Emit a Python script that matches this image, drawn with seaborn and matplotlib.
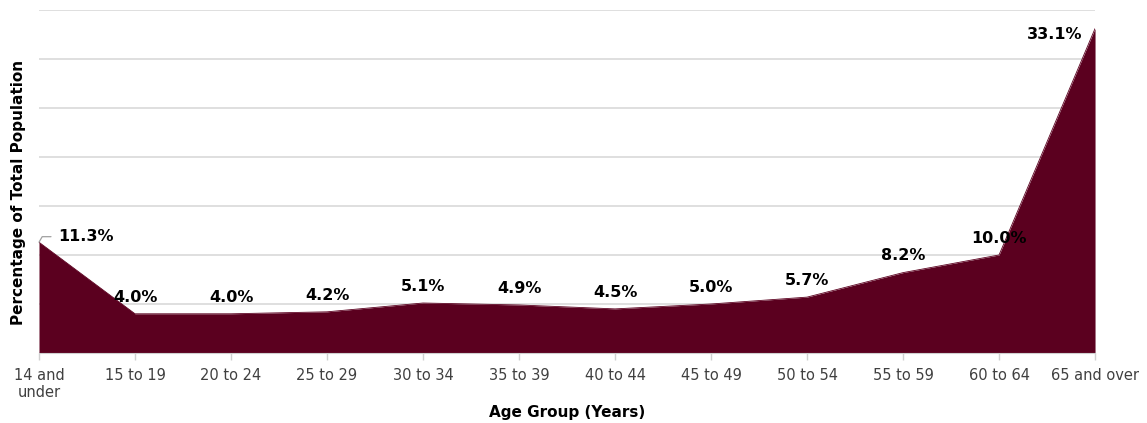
import matplotlib
matplotlib.use('Agg')
import numpy as np
import pandas as pd
import matplotlib.pyplot as plt
import seaborn as sns

age_groups = ['14 and\nunder', '15 to 19', '20 to 24', '25 to 29', '30 to 34', '35 to 39',
              '40 to 44', '45 to 49', '50 to 54', '55 to 59', '60 to 64', '65 and over']
pct = [11.3, 4.0, 4.0, 4.2, 5.1, 4.9, 4.5, 5.0, 5.7, 8.2, 10.0, 33.1]
pct_labels = ['11.3%', '4.0%', '4.0%', '4.2%', '5.1%', '4.9%', '4.5%', '5.0%', '5.7%', '8.2%', '10.0%', '33.1%']

fill_color = '#5B001F'

sns.set_style('white')
plt.rcParams['font.family'] = ['DejaVu Sans']

df = pd.DataFrame({'pos': np.arange(len(pct)), 'pct': pct})

fig = plt.figure(figsize=(11.47, 4.23), dpi=100)
ax = fig.add_axes([0.034, 0.1655, 0.9207, 0.811])

sns.lineplot(data=df, x='pos', y='pct', color=fill_color, linewidth=0.6, ax=ax)
ax.fill_between(df['pos'], df['pct'], 0, color=fill_color, linewidth=0)

ax.set_xlim(0, len(pct) - 1)
ax.set_ylim(0, 35)
ax.set_yticks(np.arange(0, 36, 5))
ax.set_yticklabels([])
ax.tick_params(axis='y', length=0)
ax.yaxis.grid(True, color='#d9d9d9', linewidth=1.2)
ax.set_axisbelow(True)

ax.set_xticks(df['pos'])
ax.set_xticklabels(age_groups, fontsize=10.5, color='#404040', linespacing=1.15)
ax.tick_params(axis='x', bottom=True, length=5, color='#d0d0d0', width=1, pad=6)

for s in ['top', 'right', 'left']:
    ax.spines[s].set_visible(False)
ax.spines['bottom'].set_color('#d0d0d0')

# data labels
for i, (v, t) in enumerate(zip(pct, pct_labels)):
    if i == 0:
        ax.annotate(t, xy=(i, v), xytext=(14, 4), textcoords='offset points',
                    ha='left', va='center', fontsize=11.5, fontweight='bold', color='black',
                    arrowprops=dict(arrowstyle='-', color='#a0a0a0', lw=0.9,
                                    connectionstyle='angle,angleA=0,angleB=60,rad=0',
                                    shrinkA=3, shrinkB=0))
    elif i == len(pct) - 1:
        ax.annotate(t, xy=(i, v), xytext=(-9, -4), textcoords='offset points',
                    ha='right', va='center', fontsize=11.5, fontweight='bold', color='black')
    else:
        ax.annotate(t, xy=(i, v), xytext=(0, 12), textcoords='offset points',
                    ha='center', va='center', fontsize=11.5, fontweight='bold', color='black')

ax.set_xlabel('Age Group (Years)', fontsize=11, fontweight='bold', color='black')
ax.set_ylabel('Percentage of Total Population', fontsize=11, fontweight='bold', color='black')
ax.xaxis.set_label_coords(0.5, -0.153)
ax.yaxis.set_label_coords(-0.0125, 0.469)

plt.savefig('out.png', dpi=100)
plt.close()
